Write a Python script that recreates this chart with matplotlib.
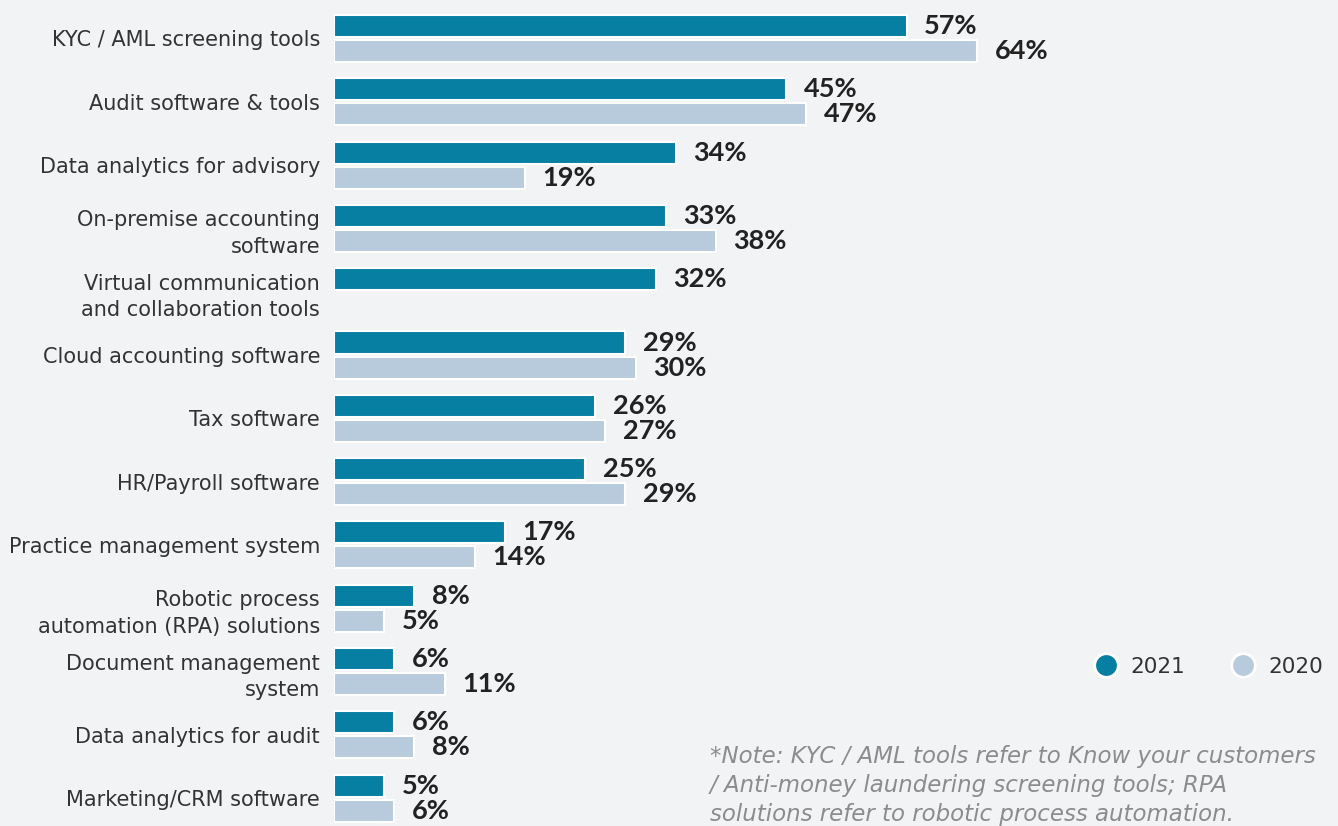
import numpy as np
import matplotlib
matplotlib.use("Agg")
import matplotlib.pyplot as plt
from matplotlib.lines import Line2D

# data
categories = [
    "KYC / AML screening tools",
    "Audit software & tools",
    "Data analytics for advisory",
    "On-premise accounting\nsoftware",
    "Virtual communication\nand collaboration tools",
    "Cloud accounting software",
    "Tax software",
    "HR/Payroll software",
    "Practice management system",
    "Robotic process\nautomation (RPA) solutions",
    "Document management\nsystem",
    "Data analytics for audit",
    "Marketing/CRM software",
]
values_2021 = [57, 45, 34, 33, 32, 29, 26, 25, 17, 8, 6, 6, 5]
values_2020 = [64, 47, 19, 38, np.nan, 30, 27, 29, 14, 5, 11, 8, 6]
series_names = ["2021", "2020"]

c2021 = "#077fa3"
c2020 = "#b7cbdc"
bg = "#f2f3f5"

W, H = 1338, 826
fig = plt.figure(figsize=(W / 100, H / 100), dpi=100, facecolor=bg)
left = 334 / W
ax = fig.add_axes([left, 0, 1 - left, 1])
ax.set_facecolor(bg)

y = np.arange(len(categories))
off = 0.1975
h = 0.348

b1 = ax.barh(y - off, values_2021, height=h, color=c2021,
             edgecolor="white", linewidth=1.5)
b2 = ax.barh(y + off, values_2020, height=h, color=c2020,
             edgecolor="white", linewidth=1.5)

# value labels
for bars, vals in [(b1, values_2021), (b2, values_2020)]:
    for rect, v in zip(bars, vals):
        if np.isnan(v):
            continue
        ax.annotate(f"{v:.0f}%", (v, rect.get_y() + rect.get_height() / 2),
                    xytext=(12.5, 0), textcoords="offset points",
                    ha="left", va="center", fontsize=19.5,
                    fontweight="bold", family="Lato", color="#222222")

ax.set_xlim(0, (W - 334) / 10.05)
ax.set_ylim(12.44, -0.608)

ax.set_yticks(y)
ax.set_yticklabels(categories, fontsize=15, color="#333333",
                   family="DejaVu Sans", linespacing=1.4)
ax.tick_params(axis="y", length=0, pad=10)
ax.set_xticks([])
for s in ax.spines.values():
    s.set_visible(False)

# legend
handles = [
    Line2D([], [], ls="", marker="o", markersize=17, markerfacecolor=c,
           markeredgecolor="white", markeredgewidth=2)
    for c in (c2021, c2020)
]
fig.legend(handles, series_names, loc="center left",
           bbox_to_anchor=(1084 / W, 1 - 667 / H), ncol=2, frameon=False,
           fontsize=15.5, handletextpad=0.15, columnspacing=1.7,
           borderpad=0, borderaxespad=0, labelcolor="#333333")

fig.text(710 / W, 1 - 745 / H,
         "*Note: KYC / AML tools refer to Know your customers\n"
         "/ Anti-money laundering screening tools; RPA\n"
         "solutions refer to robotic process automation.",
         ha="left", va="top", fontsize=16.5, style="italic",
         color="#8c8c8c", linespacing=1.33)

fig.savefig("out.png", dpi=100, facecolor=bg)
